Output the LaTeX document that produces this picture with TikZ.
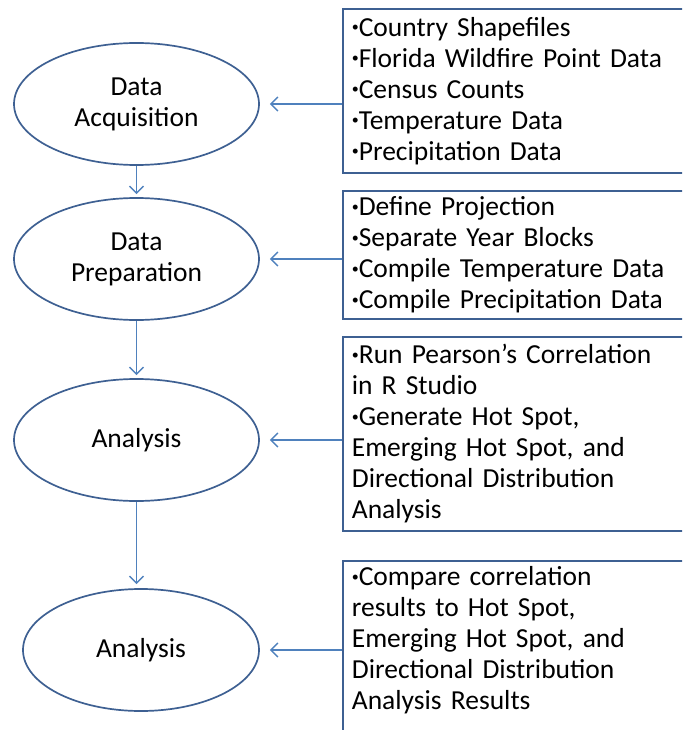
\documentclass[tikz,border=0pt]{standalone}
\usepackage{fontspec}
\setmainfont{Carlito}
\usetikzlibrary{shapes.geometric,arrows.meta}
\definecolor{outline}{RGB}{62,96,146}
\definecolor{flowblue}{RGB}{79,129,189}
\newcommand{\dotmark}{\raisebox{4.6pt}{\fontsize{14}{14}\selectfont•}}

\begin{document}
\begin{tikzpicture}[x=1pt,y=-1pt]
  \tikzstyle{stage}=[ellipse,draw=outline,line width=1.7pt,minimum width=245pt,minimum height=122pt,inner sep=0pt,align=center,font=\fontsize{27.5}{31}\selectfont]
  \tikzstyle{notes}=[rectangle,draw=outline,line width=1.7pt,anchor=north west,text width=380pt,inner xsep=9pt,inner ysep=6pt,align=left,font=\fontsize{27.5}{31}\selectfont]
  \tikzstyle{flow}=[draw=flowblue,line width=1.5pt,-{Straight Barb[length=7pt,width=14pt]}]

  \useasboundingbox (0,0) rectangle (682,730);
  \clip (0,0) rectangle (682,730);

  \node[stage] (S_1) at (136.5,104) {Data\\Acquisition};
  \node[stage] (S_2) at (136.5,259) {Data\\Preparation};
  \node[stage] (S_3) at (136.5,440) {Analysis};
  \node[stage,minimum width=236pt] (S_4) at (141,650) {Analysis};

  \node[notes,minimum height=164pt] (B_1) at (342,8) {\dotmark Country Shapefiles\\\dotmark Florida Wildfire Point Data\\\dotmark Census Counts\\\dotmark Temperature Data\\\dotmark Precipitation Data};
  \node[notes,minimum height=124pt] (B_2) at (342,190) {\dotmark Define Projection\\\dotmark Separate Year Blocks\\\dotmark Compile Temperature Data\\\dotmark Compile Precipitation Data};
  \node[notes,minimum height=194pt] (B_3) at (342,336) {\dotmark Run Pearson’s Correlation\\in R Studio\\\dotmark Generate Hot Spot,\\Emerging Hot Spot, and\\Directional Distribution\\Analysis};
  \node[notes,text depth=190pt] (B_4) at (342,560) {\dotmark Compare correlation\\results to Hot Spot,\\Emerging Hot Spot, and\\Directional Distribution\\Analysis Results};

  \draw[flow,shorten >=3pt] (S_1) -- (S_2);
  \draw[flow,shorten >=3pt] (S_2) -- (S_3);
  \draw[flow,shorten >=4pt] (S_3) -- (S_3 |- S_4.north);

  \draw[flow,shorten >=10pt] (B_1.west |- S_1) -- (S_1.east);
  \draw[flow,shorten >=10pt] (B_2.west |- S_2) -- (S_2.east);
  \draw[flow,shorten >=10pt] (B_3.west |- S_3) -- (S_3.east);
  \draw[flow,shorten >=10pt] (B_4.west |- S_4) -- (S_4.east);

\end{tikzpicture}
\end{document}
